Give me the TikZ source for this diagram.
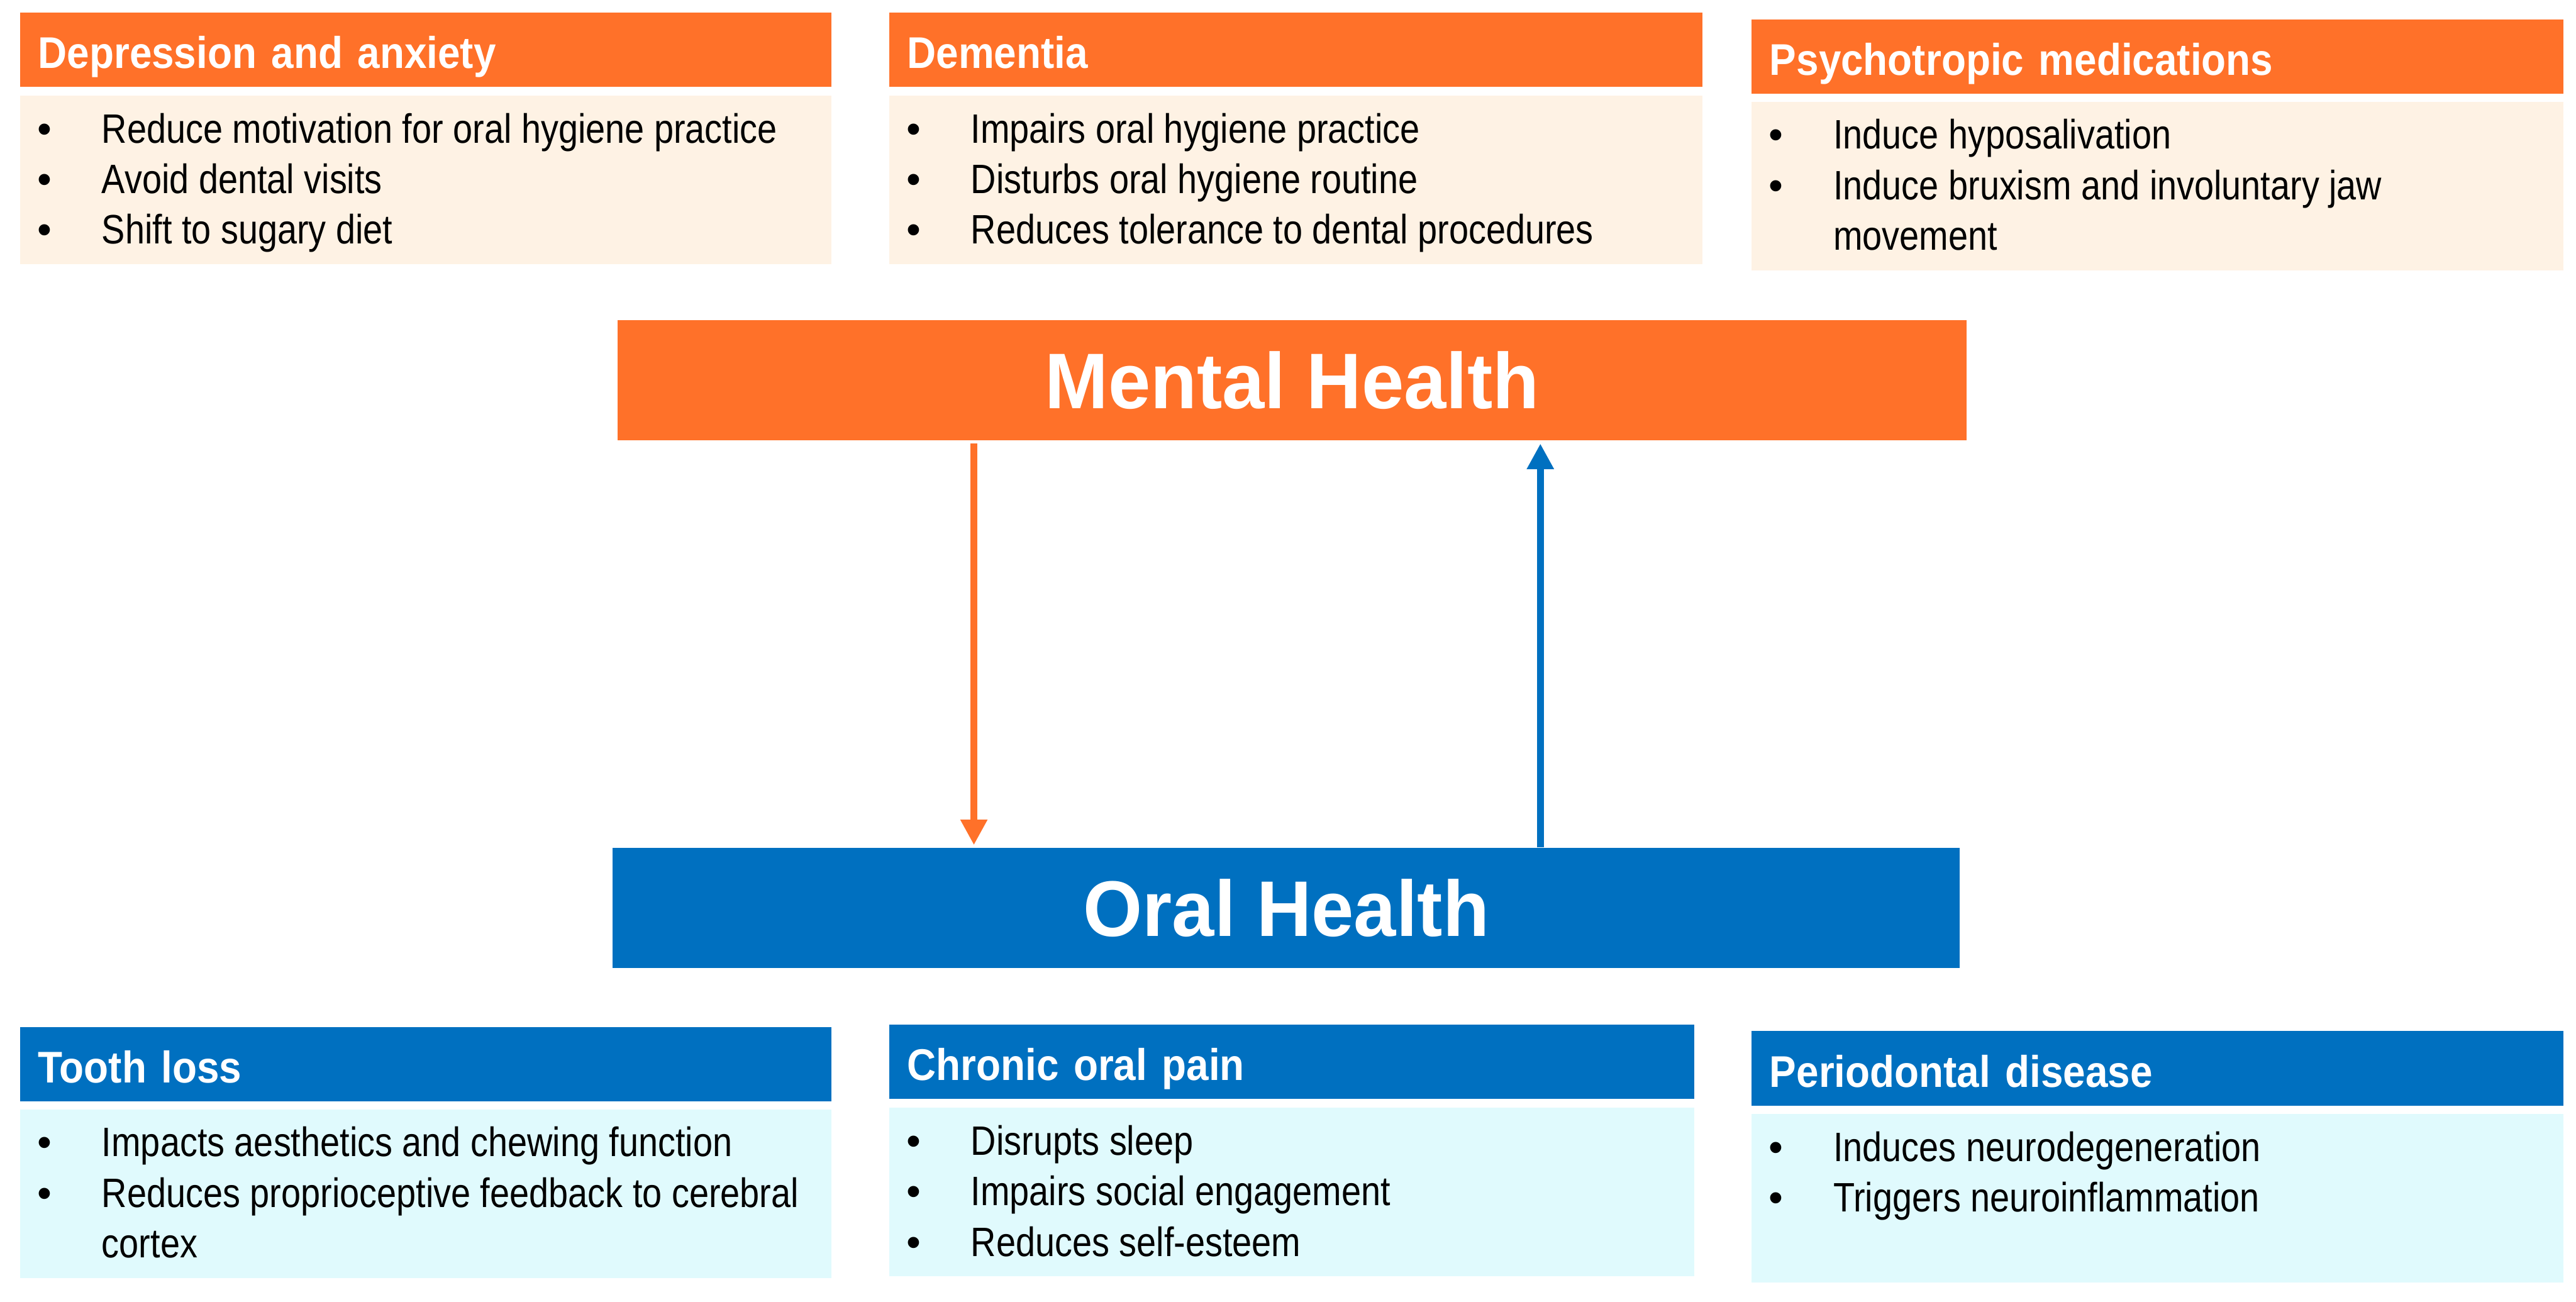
\documentclass[tikz,border=0pt]{standalone}
\usepackage{fontspec}
\setmainfont{Liberation Sans}
\newfontfamily\hdrf{Liberation Sans}[FakeStretch=0.905]
\newfontfamily\bodyf{Liberation Sans}[FakeStretch=0.855]
\newfontfamily\bigf{Liberation Sans}[FakeStretch=0.965]
\newfontfamily\bulf{Liberation Sans}
\usetikzlibrary{arrows.meta}
\definecolor{orng}{RGB}{255,113,41}
\definecolor{blu}{RGB}{0,112,192}
\definecolor{lorng}{RGB}{254,242,228}
\definecolor{lcyan}{RGB}{224,250,253}
\newcommand{\bl}[4]{\node[bul] (#1d) at (#2+15.1,#3) {•}; \node[btxt] (#1) at (#2+49.8,#3) {#4};}
\newcommand{\cl}[4]{\node[btxt] (#1) at (#2+49.8,#3) {#4};}
\begin{document}
\begin{tikzpicture}[x=1pt,y=-1pt,
  hdr/.style={anchor=north west, inner xsep=11pt, inner ysep=0pt, text height=34pt, text depth=11.3pt,
    align=left, font=\hdrf\bfseries\fontsize{27}{30}\selectfont, text=white},
  bodybox/.style={anchor=north west, inner sep=0pt, minimum height=102.5pt},
  btxt/.style={anchor=base west, inner sep=0pt, font=\bodyf\fontsize{25}{30}\selectfont, text=black},
  bul/.style={anchor=base, inner sep=0pt, font=\bulf\fontsize{25}{30}\selectfont, text=black},
  bigbox/.style={inner sep=0pt, font=\bigf\bfseries\fontsize{48}{52}\selectfont, text=white},
  oarr/.style={draw=orng, line width=4.3pt, -{Triangle[length=15.5pt,width=15.5pt]}},
  barr/.style={draw=blu, line width=4.3pt, -{Triangle[length=15.5pt,width=15.5pt]}}]
\fill[white] (0,0) rectangle (1568,792.15);
\useasboundingbox (0,0) rectangle (1568,792.15);

% top row
\node[hdr, fill=orng, text width=472pt] (h1) at (12,7.5) {Depression and anxiety};
\node[bodybox, fill=lorng, minimum width=494pt] (b1) at (12,58) {};
\bl{a1}{12}{86.9}{Reduce motivation for oral hygiene practice}
\bl{a2}{12}{117.7}{Avoid dental visits}
\bl{a3}{12}{148.5}{Shift to sugary diet}

\node[hdr, fill=orng, text width=473pt] (h2) at (541,7.5) {Dementia};
\node[bodybox, fill=lorng, minimum width=495pt] (b2) at (541,58) {};
\bl{c1}{541}{86.9}{Impairs oral hygiene practice}
\bl{c2}{541}{117.7}{Disturbs oral hygiene routine}
\bl{c3}{541}{148.5}{Reduces tolerance to dental procedures}

\node[hdr, fill=orng, text width=472pt] (h3) at (1066,11.7) {Psychotropic medications};
\node[bodybox, fill=lorng, minimum width=494pt] (b3) at (1066,61.8) {};
\bl{p1}{1066}{90.7}{Induce hyposalivation}
\bl{p2}{1066}{121.5}{Induce bruxism and involuntary jaw}
\cl{p3}{1066}{152.3}{movement}

% central boxes
\node[bigbox, fill=orng, minimum width=821pt, minimum height=72.8pt] (mental) at (786.5,231.4) {Mental Health};
\node[bigbox, fill=blu, minimum width=820pt, minimum height=73pt] (oral) at (783,552.5) {Oral Health};

\coordinate (ox) at (592.8,0);
\coordinate (bx) at (937.6,0);
\draw[oarr] ([yshift=-2pt]mental.south -| ox) -- ([yshift=1.5pt]oral.north -| ox);
\draw[barr] (oral.north -| bx) -- ([yshift=-2pt]mental.south -| bx);

% bottom row
\node[hdr, fill=blu, text width=472pt] (h4) at (12,624.8) {Tooth loss};
\node[bodybox, fill=lcyan, minimum width=494pt] (b4) at (12,675) {};
\bl{t1}{12}{703.9}{Impacts aesthetics and chewing function}
\bl{t2}{12}{734.7}{Reduces proprioceptive feedback to cerebral}
\cl{t3}{12}{765.5}{cortex}

\node[hdr, fill=blu, text width=468pt] (h5) at (541,623.3) {Chronic oral pain};
\node[bodybox, fill=lcyan, minimum width=490pt] (b5) at (541,674) {};
\bl{k1}{541}{702.9}{Disrupts sleep}
\bl{k2}{541}{733.7}{Impairs social engagement}
\bl{k3}{541}{764.5}{Reduces self-esteem}

\node[hdr, fill=blu, text width=472pt] (h6) at (1066,627.4) {Periodontal disease};
\node[bodybox, fill=lcyan, minimum width=494pt] (b6) at (1066,677.9) {};
\bl{q1}{1066}{706.8}{Induces neurodegeneration}
\bl{q2}{1066}{737.6}{Triggers neuroinflammation}
\end{tikzpicture}
\end{document}
